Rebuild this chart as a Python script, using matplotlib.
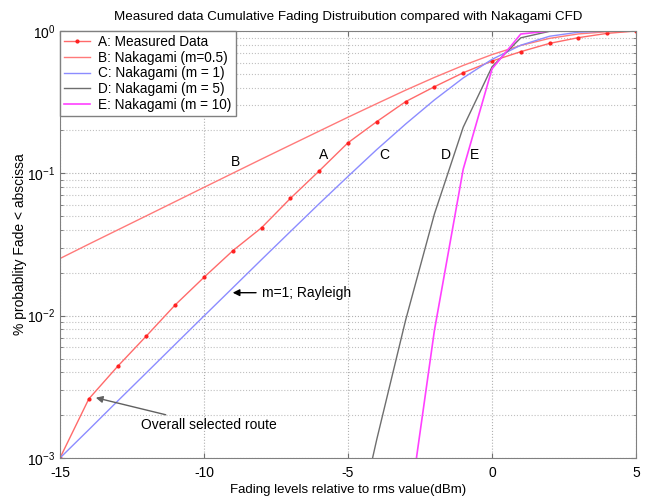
import matplotlib.pyplot as plt
import numpy as np

plt.rcParams['font.family'] = ['Liberation Sans', 'DejaVu Sans']

# fading level (dB) relative to rms
x_db = [-15, -14, -13, -12, -11, -10, -9, -8, -7, -6, -5, -4, -3, -2, -1, 0, 1, 2, 3, 4, 5]

# A: measured data
meas = [1.0e-3, 2.6e-3, 4.4e-3, 7.2e-3, 0.0119, 0.0186, 0.0286, 0.0415, 0.0667, 0.104,
        0.164, 0.231, 0.319, 0.406, 0.509, 0.615, 0.716, 0.819, 0.898, 0.963, 1.0]
# B: Nakagami m=0.5
nak_05 = [0.0252, 0.0318, 0.0400, 0.0503, 0.0633, 0.0797, 0.1002, 0.126, 0.158, 0.198,
          0.248, 0.309, 0.384, 0.472, 0.573, 0.683, 0.792, 0.888, 0.954, 0.988, 0.998]
# C: Nakagami m=1
nak_1 = [0.0010, 0.00158, 0.00251, 0.00397, 0.00629, 0.00995, 0.0157, 0.0248, 0.0390, 0.0612,
         0.0952, 0.147, 0.222, 0.328, 0.468, 0.632, 0.795, 0.919, 0.981, 0.998, 1.0]
# D: Nakagami m=5 (from -5 dB)
x_d = [-5, -4, -3, -2, -1, 0, 1, 2, 3, 4, 5]
nak_5 = [1.72e-4, 1.355e-3, 0.0093, 0.0518, 0.211, 0.560, 0.896, 0.995, 1.0, 1.0, 1.0]
# E: Nakagami m=10 (from -3 dB)
x_e = [-3, -2, -1, 0, 1, 2, 3, 4, 5]
nak_10 = [2.88e-4, 7.88e-3, 0.107, 0.542, 0.953, 0.9998, 1.0, 1.0, 1.0]

fig = plt.figure(figsize=(6.5, 4.97), dpi=100)
ax = fig.add_axes([0.0923, 0.0785, 0.8862, 0.8591])

ax.plot(x_db, meas, '.-', color='#ff6a6a', markeredgecolor='#ff2020', markerfacecolor='#ff2020',
        markersize=4, linewidth=1, label='A: Measured Data')
ax.plot(x_db, nak_05, '-', color='#ff7a7a', linewidth=1, label='B: Nakagami (m=0.5)')
ax.plot(x_db, nak_1, '-', color='#8c8cff', linewidth=1, label='C: Nakagami (m = 1)')
ax.plot(x_d, nak_5, '-', color='#6e6e6e', linewidth=1, label='D: Nakagami (m = 5)')
ax.plot(x_e, nak_10, '-', color='#ff40ff', linewidth=1.2, label='E: Nakagami (m = 10)')

ax.set_yscale('log')
ax.set_xlim(-15, 5)
ax.set_ylim(1e-3, 1)
ax.set_xticks([-15, -10, -5, 0, 5])
ax.set_xticklabels(['-15', '-10', '-5', '0', '5'])

ax.grid(True, which='major', linestyle=':', color='#b0b0b0', linewidth=0.8)
ax.grid(True, which='minor', axis='y', linestyle=':', color='#c0c0c0', linewidth=0.8)
ax.tick_params(which='both', direction='in', top=True, right=True, labelsize=10,
               color='#707070')
ax.tick_params(axis='x', pad=6)
for s in ax.spines.values():
    s.set_color('#808080')

ax.set_title('Measured data Cumulative Fading Distruibution compared with Nakagami CFD',
             fontsize=9.6, pad=8)
ax.set_xlabel('Fading levels relative to rms value(dBm)', fontsize=9.5, labelpad=3)
ax.set_ylabel('% probablity Fade < abscissa', fontsize=10)
ax.yaxis.set_label_coords(-0.057, 0.5)

# curve labels
for lab, px, py in [('B', -8.9, 0.12), ('A', -5.85, 0.134), ('C', -3.75, 0.134),
                    ('D', -1.6, 0.134), ('E', -0.6, 0.134)]:
    ax.text(px, py, lab, fontsize=10, ha='center', va='center')

ax.annotate('m=1; Rayleigh', xy=(-9.1, 0.0145), xytext=(-8.0, 0.0145),
            fontsize=10, va='center',
            arrowprops=dict(arrowstyle='-|>', color='black', lw=1, mutation_scale=10))
ax.annotate('Overall selected route', xy=(-13.85, 0.00268), xytext=(-12.2, 0.0017),
            fontsize=10, va='center',
            arrowprops=dict(arrowstyle='-|>', color='#606060', lw=1, mutation_scale=10,
                            shrinkA=2))

leg = ax.legend(loc='upper left', fontsize=9.8, borderaxespad=0, handlelength=1.9,
                labelspacing=0.12, fancybox=False, framealpha=1, edgecolor='#808080',
                borderpad=0.3, handletextpad=0.6)

fig.savefig('out.png', dpi=100)
